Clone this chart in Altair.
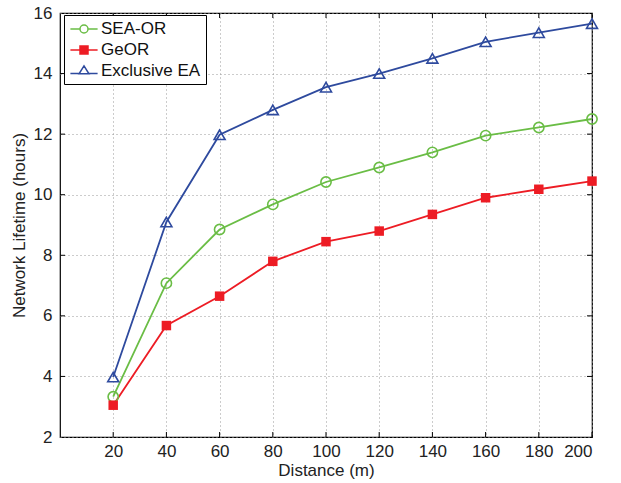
import altair as alt
import pandas as pd

distance = [20, 40, 60, 80, 100, 120, 140, 160, 180, 200]
sea_or = [3.33, 7.08, 8.85, 9.68, 10.42, 10.9, 11.4, 11.95, 12.22, 12.5]
geor = [3.05, 5.68, 6.65, 7.8, 8.45, 8.8, 9.35, 9.9, 10.18, 10.45]
excl_ea = [3.98, 9.1, 11.98, 12.8, 13.55, 14.0, 14.5, 15.05, 15.35, 15.65]

series_names = ["SEA-OR", "GeOR", "Exclusive EA"]
series_colors = ["#6abd45", "#ed1c24", "#2e4a9e"]
series_shapes = ["circle", "square", "triangle-up"]
series_filled = [False, True, False]
series_sizes = [105, 90, 120]
x_ticks = [20, 40, 60, 80, 100, 120, 140, 160, 180, 200]
y_ticks = [2, 4, 6, 8, 10, 12, 14, 16]

rows = []
for name, vals in zip(series_names, [sea_or, geor, excl_ea]):
    for d, v in zip(distance, vals):
        rows.append({"distance": d, "lifetime": v, "series": name})
df = pd.DataFrame(rows)

FONT = "Liberation Sans"
W, H = 532, 424

xs = alt.Scale(domain=[0, 200], nice=False, zero=False)
ys = alt.Scale(domain=[2, 16], nice=False, zero=False)

x_enc = alt.X("distance:Q", scale=xs,
              axis=alt.Axis(values=x_ticks, title="Distance (m)", ticks=False, domain=False,
                            labelPadding=6, titlePadding=3, grid=True))
y_enc = alt.Y("lifetime:Q", scale=ys,
              axis=alt.Axis(values=y_ticks, title="Network Lifetime (hours)", ticks=False,
                            domain=False, labelPadding=8, titlePadding=5, grid=True))

base = alt.Chart(df)
layers = []
for i, name in enumerate(series_names):
    sub = base.transform_filter(alt.datum.series == name)
    enc_x = x_enc if i == 0 else alt.X("distance:Q")
    enc_y = y_enc if i == 0 else alt.Y("lifetime:Q")
    layers.append(sub.mark_line(strokeWidth=1.8, color=series_colors[i]).encode(x=enc_x, y=enc_y))
for i, name in enumerate(series_names):
    sub = base.transform_filter(alt.datum.series == name)
    if series_filled[i]:
        m = sub.mark_point(shape=series_shapes[i], size=series_sizes[i], filled=True,
                           color=series_colors[i], opacity=1)
    else:
        m = sub.mark_point(shape=series_shapes[i], size=series_sizes[i], filled=False,
                           color=series_colors[i], strokeWidth=1.6, opacity=1)
    layers.append(m.encode(x="distance:Q", y="lifetime:Q"))

# ticks pointing inward on all four sides
tick_x = pd.DataFrame({"d": x_ticks})
tick_y = pd.DataFrame({"v": y_ticks[1:-1]})
layers.append(alt.Chart(tick_x).mark_rule(color="black", strokeWidth=1).encode(
    x="d:Q", y=alt.value(H), y2=alt.value(H - 5)))
layers.append(alt.Chart(tick_x).mark_rule(color="black", strokeWidth=1).encode(
    x="d:Q", y=alt.value(0), y2=alt.value(5)))
layers.append(alt.Chart(tick_y).mark_rule(color="black", strokeWidth=1).encode(
    y="v:Q", x=alt.value(0), x2=alt.value(5)))
layers.append(alt.Chart(tick_y).mark_rule(color="black", strokeWidth=1).encode(
    y="v:Q", x=alt.value(W), x2=alt.value(W - 5)))

# legend-only layer (no visible data)
L = 1.7
legend_paths = [
    f"M{-L},0L-0.5,0M0.5,0L{L},0M0.5,0A0.5,0.5,0,1,1,-0.5,0A0.5,0.5,0,1,1,0.5,0",
    f"M{-L},0L{L},0M-0.5,-0.5L0.5,-0.5L0.5,0.5L-0.5,0.5Z",
    f"M{-L},0.3L-0.53,0.3M0.53,0.3L{L},0.3M0,-0.65L0.62,0.35L-0.62,0.35Z",
]
legend_def = alt.Legend(
    title=None, orient="none", legendX=4, legendY=2,
    strokeColor="black", fillColor="white", padding=5, rowPadding=4,
    symbolSize=256, symbolStrokeWidth=1.5, symbolOffset=6, labelOffset=8,
    labelFont=FONT, labelFontSize=17, labelColor="#111", labelLimit=300,
)
cs = alt.Scale(domain=series_names, range=series_colors)
layers.append(base.transform_filter(alt.datum.distance < 0).mark_point(opacity=1).encode(
    x="distance:Q", y="lifetime:Q",
    color=alt.Color("series:N", scale=cs, legend=legend_def),
    shape=alt.Shape("series:N", scale=alt.Scale(domain=series_names, range=legend_paths),
                    legend=legend_def),
    fill=alt.Fill("series:N", scale=alt.Scale(domain=series_names,
                                              range=["transparent", "#ed1c24", "transparent"]),
                  legend=legend_def),
))

chart = alt.layer(*layers).properties(
    width=W, height=H,
    autosize=alt.AutoSizeParams(type="none"),
    padding={"left": 60, "top": 13, "right": 29, "bottom": 46},
    background="white",
).configure_view(
    stroke="black", strokeWidth=1.2
).configure_axis(
    labelFont=FONT, titleFont=FONT, labelFontSize=17, titleFontSize=17,
    labelColor="#222", titleColor="#222", titleFontWeight="normal",
    gridColor="#999", gridDash=[1, 3], gridWidth=1,
)

chart.save("out.html", embed_options={"renderer": "svg", "actions": False})
